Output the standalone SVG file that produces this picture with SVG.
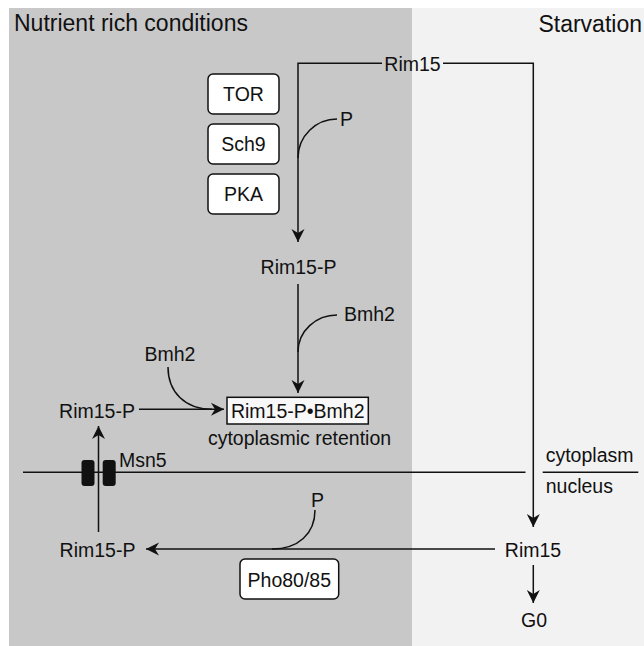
<svg xmlns="http://www.w3.org/2000/svg" width="644" height="646" viewBox="0 0 644 646">
<style>
text{font-family:"Liberation Sans",Arial,sans-serif;font-size:19.5px;fill:#111}
.title{font-size:23px}
.ln{stroke:#111;stroke-width:1.5;fill:none}
.box{fill:#fff;stroke:#111;stroke-width:1.5}
</style>
<defs>
<marker id="ah" viewBox="-14 -8 15 16" markerWidth="15" markerHeight="16" refX="0" refY="0" orient="auto" markerUnits="userSpaceOnUse">
<path d="M0,0 L-13,-6.5 L-9,0 L-13,6.5 Z" fill="#111"/>
</marker>
</defs>
<rect x="0" y="0" width="644" height="646" fill="#fff"/>
<rect x="9" y="8" width="403" height="638" fill="#c8c8c8"/>
<rect x="412" y="8" width="232" height="638" fill="#f2f2f2"/>
<text class="title" x="14" y="31">Nutrient rich conditions</text>
<text class="title" x="642" y="32" text-anchor="end">Starvation</text>

<g id="connectors">
<path class="ln" d="M382,63.3 H298 V242" marker-end="url(#ah)"/>
<path class="ln" d="M443,63.3 H533.3 V527" marker-end="url(#ah)"/>
<path class="ln" d="M298,158 C298,136 316,119 337,119"/>
<path class="ln" d="M298,284 V393" marker-end="url(#ah)"/>
<path class="ln" d="M298,352 C298,331 316,315 337,315"/>
<path class="ln" d="M139,409.3 H224" marker-end="url(#ah)"/>
<path class="ln" d="M168,367 C168,392 185,409.3 212,409.3"/>
<path class="ln" d="M98.5,532 V426" marker-end="url(#ah)"/>
<path class="ln" d="M495,549 H146" marker-end="url(#ah)"/>
<path class="ln" d="M315,510 C315,534 298,549 272,549"/>
<path class="ln" d="M533.3,565 V603" marker-end="url(#ah)"/>
<path class="ln" d="M23,472.3 H525.5"/>
<path class="ln" d="M542.7,472.3 H638.3"/>
</g>

<g id="pore">
<rect x="81.5" y="460" width="13" height="26" rx="3" fill="#111"/>
<rect x="102.7" y="460" width="13" height="26" rx="3" fill="#111"/>
</g>

<g id="tor"><rect class="box" x="208" y="74" width="71" height="40" rx="5"/><text x="243.5" y="101" text-anchor="middle">TOR</text></g>
<g id="sch9"><rect class="box" x="208" y="124" width="71" height="40" rx="5"/><text x="243.5" y="151" text-anchor="middle">Sch9</text></g>
<g id="pka"><rect class="box" x="208" y="174" width="71" height="40" rx="5"/><text x="243.5" y="201" text-anchor="middle">PKA</text></g>

<g id="rim15-top"><text x="412.5" y="70.7" text-anchor="middle">Rim15</text></g>
<g id="p-top"><text x="340" y="125.5">P</text></g>
<g id="rim15p-mid"><text x="298.5" y="274" text-anchor="middle">Rim15-P</text></g>
<g id="bmh2-right"><text x="344" y="321">Bmh2</text></g>
<g id="bmh2-left"><text x="170" y="361" text-anchor="middle">Bmh2</text></g>
<g id="complex"><rect x="227" y="397.3" width="141.3" height="26.7" fill="#f8f8f8" stroke="#111" stroke-width="1.5"/><text x="297.7" y="417.7" text-anchor="middle">Rim15-P•Bmh2</text></g>
<g id="retention"><text x="299.5" y="445" text-anchor="middle">cytoplasmic retention</text></g>
<g id="rim15p-left"><text x="97" y="417.7" text-anchor="middle">Rim15-P</text></g>
<g id="msn5"><text x="119" y="467.3">Msn5</text></g>
<g id="cytoplasm"><text x="545.7" y="462">cytoplasm</text></g>
<g id="nucleus"><text x="545.7" y="493.3">nucleus</text></g>
<g id="p-bottom"><text x="317.5" y="506.7" text-anchor="middle">P</text></g>
<g id="rim15p-bottom"><text x="97.5" y="557.3" text-anchor="middle">Rim15-P</text></g>
<g id="rim15-bottom"><text x="533" y="557.3" text-anchor="middle">Rim15</text></g>
<g id="pho"><rect class="box" x="240" y="559" width="98.7" height="40" rx="5"/><text x="289.3" y="586.7" text-anchor="middle">Pho80/85</text></g>
<g id="g0"><text x="534" y="626.7" text-anchor="middle">G0</text></g>
</svg>
